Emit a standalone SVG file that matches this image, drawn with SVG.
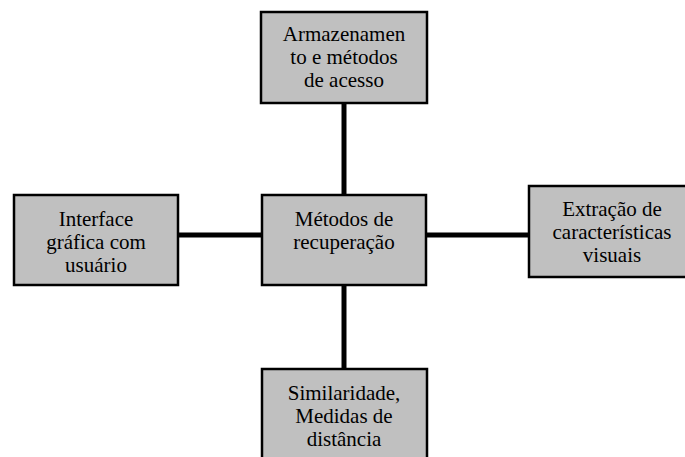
<svg xmlns="http://www.w3.org/2000/svg" width="685" height="457" viewBox="0 0 685 457">
<style>
.box{fill:#c0c0c0;stroke:#000;stroke-width:2.5}
.lbl{font-family:"Liberation Serif","Times New Roman",serif;font-size:21px;fill:#000;text-anchor:middle}
.edge{stroke:#000;stroke-width:5;fill:none}
</style>
<rect width="685" height="457" fill="#fff"/>
<g id="connectors">
<line class="edge" x1="344" y1="103" x2="344" y2="195"/>
<line class="edge" x1="344" y1="285" x2="344" y2="369"/>
<line class="edge" x1="178" y1="235" x2="262" y2="235"/>
<line class="edge" x1="426" y1="235" x2="529" y2="235"/>
</g>
<g id="armazenamento">
<rect class="box" x="261" y="12" width="166" height="91"/>
<text class="lbl" x="344" y="41">Armazenamen</text>
<text class="lbl" x="344" y="64">to e métodos</text>
<text class="lbl" x="344" y="87">de acesso</text>
</g>
<g id="interface">
<rect class="box" x="14" y="195" width="164" height="90"/>
<text class="lbl" x="96" y="226">Interface</text>
<text class="lbl" x="96" y="249">gráfica com</text>
<text class="lbl" x="96" y="272">usuário</text>
</g>
<g id="metodos">
<rect class="box" x="262" y="195" width="164" height="90"/>
<text class="lbl" x="344" y="226">Métodos de</text>
<text class="lbl" x="344" y="249">recuperação</text>
</g>
<g id="extracao">
<rect class="box" x="529" y="186" width="160" height="91"/>
<text class="lbl" x="612" y="216">Extração de</text>
<text class="lbl" x="612" y="239">características</text>
<text class="lbl" x="612" y="262">visuais</text>
</g>
<g id="similaridade">
<rect class="box" x="262" y="369" width="165" height="95"/>
<text class="lbl" x="344" y="400">Similaridade,</text>
<text class="lbl" x="344" y="423">Medidas de</text>
<text class="lbl" x="344" y="446">distância</text>
</g>
</svg>
